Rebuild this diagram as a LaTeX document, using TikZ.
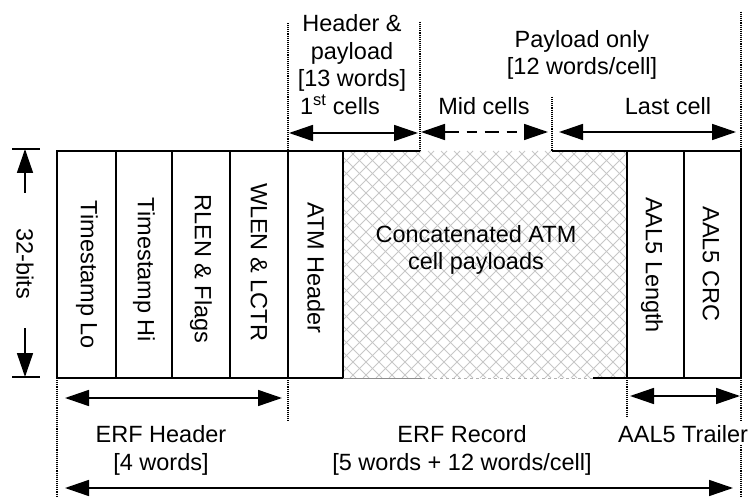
\documentclass[tikz,border=0pt]{standalone}
\usepackage{fontspec}
\setmainfont{Liberation Sans}
\usetikzlibrary{arrows.meta}
\begin{document}
\begin{tikzpicture}[x=1pt,y=-1pt,
  lbl/.style={font=\fontsize{23.5}{27.5}\selectfont, inner sep=0pt, align=center},
  vlbl/.style={lbl, rotate=-90},
  frame/.style={line width=1.7pt},
  guide/.style={densely dotted, line width=1.1pt},
  dimarrow/.style={line width=1.6pt, {Triangle[length=24pt,width=16pt]}-{Triangle[length=24pt,width=16pt]}},
  onearrow/.style={line width=1.6pt, -{Triangle[length=24pt,width=16pt]}},
  hatchline/.style={black!22, line width=1pt}]
\useasboundingbox (0,0) rectangle (750,497);

% hatched payload area
\begin{scope}
  \clip (343,151) rectangle (627,378);
  \foreach \i in {103,116,...,640} {
    \draw[hatchline] (\i,151) -- ++(227,227);
    \draw[hatchline] (\i,378) -- ++(227,-227);
  }
\end{scope}

% frame
\draw[frame] (420,151) -- (57,151) -- (57,378) -- (343,378);
\draw[frame] (552,151) -- (741,151) -- (741,378) -- (593,378);
\draw[black!45, line width=1pt] (343,378) -- (422,378);
\draw[black!30, dashed, line width=0.8pt] (422,378) -- (593,378);
\foreach \x in {116,172,230,288,343,627,684} \draw[frame] (\x,151) -- (\x,378);

% field labels
\node[vlbl] (tslo) at (87,275) {Timestamp Lo};
\node[vlbl] (tshi) at (144,270) {Timestamp Hi};
\node[vlbl] (rlen) at (201,269) {RLEN \& Flags};
\node[vlbl] (wlen) at (259,262) {WLEN \& LCTR};
\node[vlbl] (atmh) at (316,268) {ATM Header};
\node[lbl] (conc) at (476,250) {Concatenated ATM\\cell payloads};
\node[vlbl] (aall) at (652,265) {AAL5 Length};
\node[vlbl] (aalc) at (711,264) {AAL5 CRC};

% 32-bits dimension
\coordinate (bt) at (25,149);
\coordinate (bb) at (25,377);
\draw[line width=1.6pt] (12,149) -- (40,149);
\draw[line width=1.6pt] (12,377) -- (40,377);
\node[vlbl] (bits) at (25,264) {32-bits};
\coordinate (btu) at (25,193);
\coordinate (bbd) at (25,328);
\draw[onearrow] (btu) -- (bt);
\draw[onearrow] (bbd) -- (bb);

% top guides
\draw[guide] (288,23) -- (288,151);
\draw[guide] (420,22) -- (420,151);
\draw[guide] (552,97) -- (552,151);
\draw[guide] (741,12) -- (741,151);

% top labels
\node[lbl, anchor=base] (hp) at (352,87) {Header \&\\payload\\{}[13 words]};
\node[lbl, anchor=base] (first) at (340,115) {1\textsuperscript{st} cells};
\node[lbl, anchor=base] (po) at (582,75) {Payload only\\{}[12 words/cell]};
\node[lbl, anchor=base] (mid) at (484,115) {Mid cells};
\node[lbl, anchor=base] (last) at (668,115) {Last cell};

% top arrows
\coordinate (a1l) at (289,133);
\coordinate (a1r) at (418,133);
\coordinate (a2l) at (421,132);
\coordinate (a2r) at (548,132);
\coordinate (a3l) at (559,132);
\coordinate (a3r) at (736,132);
\draw[dimarrow] (a1l) -- (a1r);
\draw[dimarrow, dash pattern=on 14pt off 8pt on 10pt off 8pt] (a2l) -- (a2r);
\draw[dimarrow] (a3l) -- (a3r);

% bottom guides
\draw[guide] (57,378) -- (57,497);
\draw[guide] (288,378) -- (288,421);
\draw[guide] (627,378) -- (627,416);
\draw[guide] (741,378) -- (741,497);

% bottom labels
\node[lbl, anchor=base] (erfh) at (161,470) {ERF Header\\{}[4 words]};
\node[lbl, anchor=base] (erfr) at (462,470) {ERF Record\\{}[5 words + 12 words/cell]};
\node[lbl, anchor=base west, fill=white, inner ysep=3pt, inner xsep=0pt] (aalt) at (618,442) {AAL5 Trailer};

% bottom arrows
\coordinate (b1l) at (65,398);
\coordinate (b1r) at (282,398);
\coordinate (b2l) at (630,396);
\coordinate (b2r) at (740,396);
\coordinate (b3l) at (65,488);
\coordinate (b3r) at (733,488);
\draw[dimarrow] (b1l) -- (b1r);
\draw[dimarrow] (b2l) -- (b2r);
\draw[dimarrow] (b3l) -- (b3r);
\end{tikzpicture}
\end{document}
